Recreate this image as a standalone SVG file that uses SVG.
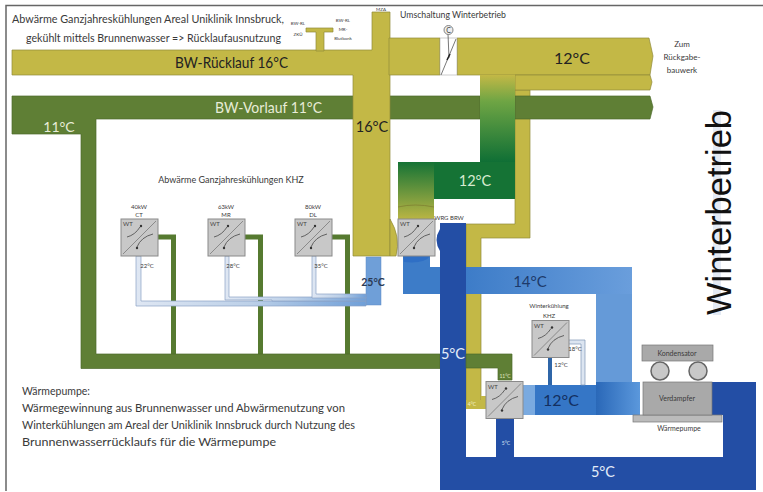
<svg xmlns="http://www.w3.org/2000/svg" width="763" height="492" viewBox="0 0 763 492">
<defs>
<linearGradient id="gv" x1="0" y1="0" x2="0" y2="1"><stop offset="0" stop-color="#c3b846"/><stop offset=".3" stop-color="#6fa544"/><stop offset="1" stop-color="#0f6f35"/></linearGradient>
<linearGradient id="gb" x1="0" y1="0" x2="0" y2="1"><stop offset="0" stop-color="#157335"/><stop offset="1" stop-color="#b9b544"/></linearGradient>
<linearGradient id="gl" x1="0" y1="0" x2="1" y2="0"><stop offset="0" stop-color="#dfe7f3"/><stop offset=".5" stop-color="#bcd0e8"/><stop offset="1" stop-color="#6f9fd8"/></linearGradient>
<linearGradient id="g12" x1="0" y1="0" x2="1" y2="0"><stop offset="0" stop-color="#2a68b8"/><stop offset="1" stop-color="#5b98dc"/></linearGradient>
<linearGradient id="g14" x1="0" y1="0" x2="1" y2="0"><stop offset="0" stop-color="#3d7cc8"/><stop offset="1" stop-color="#6a9edc"/></linearGradient>
<symbol id="wt" viewBox="0 0 37 37" overflow="visible">
<rect x="0" y="0" width="37" height="37" fill="#c8c8c8" stroke="#8a8a8a" stroke-width="1"/>
<path d="M2 35L35 2" stroke="#8a8a8a" stroke-width="1" fill="none"/>
<path d="M6 18Q14 16 19 8M16 28Q20 18 32 15" stroke="#555" stroke-width=".9" fill="none"/>
<circle cx="20" cy="7" r="1.200" fill="#333"/><circle cx="16" cy="29" r="1.200" fill="#333"/>
<text x="2" y="7" font-size="6" fill="#444">WT</text>
</symbol>
</defs>
<style>
text{font-family:Lato,"Open Sans","Liberation Sans",sans-serif}
.t{fill:#3a3a3a}
.y{fill:#c3b846;stroke:#8f8a3a;stroke-width:.7}
.g{fill:#5f7f35;stroke:#4d6b2c;stroke-width:.7}
.d{fill:#234ea5}
.pg{fill:none;stroke:#567a30;stroke-width:5}
.m{fill:#3d7cc8}
.box{fill:#a9a9a9;stroke:#777;stroke-width:.7}
</style>
<rect width="763" height="492" fill="#fff"/>
<path d="M6 491V5.500H763" fill="none" stroke="#666" stroke-width="1.500"/>
<g id="connectors">
<path class="pg" d="M158 237H173.500V354M245 237H260.500V354M332 237H347.500V354"/>
<path class="y" d="M466 224H515V90H530V238H481V408H466Z"/>
<path class="g" d="M12 96H480V119H96V354H440V368.500H81V134H12Z"/>
<path class="g" d="M515 96H650L653 107L650 119H515Z"/>
<path class="y" d="M12 50H372V12H390V256H353V75H12Z"/>
<path class="y" d="M390 219Q401 237 396 256H390Z"/>
<path class="y" d="M389 38H440V75H389Z"/>
<path class="y" d="M457 38H649L653 56L650 75H457Z"/>
<path class="y" d="M515 75H650L652 82L650 90H515Z"/>
<path d="M440 38H457V75H440Z" fill="#fff" stroke="#999" stroke-width=".5"/>
<path d="M441 75L456 39" stroke="#555" stroke-width=".8"/>
<path d="M448 34L449 58" stroke="#555" stroke-width=".8"/>
<path d="M447 60L450 54" stroke="#222" stroke-width="1.500"/>
<path class="y" d="M306 28H333V32H324V51H316V32H306Z"/>
<rect x="480" y="75" width="35" height="87" fill="url(#gv)"/>
<rect x="398" y="162" width="117" height="37" fill="#157335"/>
<rect x="398" y="162" width="36" height="57" fill="url(#gb)"/>
<path d="M398 207Q415 203 434 207" stroke="#7d7b2f" stroke-width=".7" fill="none"/>
<path class="m" d="M403 256H430V267H632V294H403Z"/>
<path d="M403 256H430Q425 264 404 262Z" fill="#2f6fc5"/>
<rect x="596" y="294" width="36" height="88" fill="#659ad8"/>
<rect x="466" y="267" width="166" height="27" fill="url(#g14)"/>
<path class="d" d="M440 223H466V457H440ZM440 229Q433 240 440 251Z"/>
<path class="g" d="M466 354H512V380H498V368H466Z"/>
<rect x="481" y="396" width="5" height="13" fill="#c3b846"/>
<rect x="466" y="400" width="15" height="9" fill="#c3b846"/>
<rect x="523" y="385" width="13" height="30" fill="#7aaae0"/>
<rect x="535" y="385" width="61" height="30" fill="#3576c6"/>
<rect x="596" y="382" width="44" height="33" fill="url(#g12)"/>
<path class="d" d="M712 382H756V490H440V457H723V415H712Z"/>
<rect x="496" y="419" width="18" height="38" fill="#234ea5"/>
<rect x="366" y="257" width="15" height="48" fill="#6f9fd8" stroke="#5c8bc5" stroke-width=".5"/>
<path d="M136 256H141V301H366V306H136Z" fill="url(#gl)" stroke="#8aa2c4" stroke-width=".7"/>
<path d="M225 256H229V297H366V301H272V300H225Z" fill="url(#gl)" stroke="#8aa2c4" stroke-width=".7"/>
<path d="M312 256H316V294H366V298H312Z" fill="url(#gl)" stroke="#8aa2c4" stroke-width=".7"/>
<rect x="548" y="358" width="4" height="27" fill="#2f66a8"/>
<path d="M568 340H585V385H581V344H568Z" fill="#dce5f1" stroke="#7f95b5" stroke-width=".7"/>
</g>
<g id="valve">
<circle cx="448.500" cy="30" r="4.500" fill="#eee" stroke="#666" stroke-width=".8"/>
<text x="448.500" y="32.500" font-size="7" text-anchor="middle" class="t">C</text>
</g>
<g id="wt-ct"><use href="#wt" x="121" y="219" width="37" height="37"/></g>
<g id="wt-mr"><use href="#wt" x="208" y="219" width="37" height="37"/></g>
<g id="wt-dl"><use href="#wt" x="295" y="219" width="37" height="37"/></g>
<g id="wt-wrg"><use href="#wt" x="398" y="219" width="37" height="37"/></g>
<g id="wt-winter"><use href="#wt" x="486" y="381" width="37" height="38"/></g>
<g id="wt-khz"><use href="#wt" x="532" y="320" width="37" height="38"/></g>
<g id="waermepumpe">
<rect class="box" x="633" y="415" width="89" height="7" style="fill:#bbb"/>
<rect class="box" x="643" y="382" width="69" height="33"/>
<rect class="box" x="642" y="345" width="71" height="16"/>
<circle cx="660" cy="371" r="9" fill="#c8c8c8" stroke="#666" stroke-width="1.500"/>
<circle cx="698" cy="371" r="9" fill="#c8c8c8" stroke="#666" stroke-width="1.500"/>
<text x="677" y="355.500" font-size="7" text-anchor="middle" class="t">Kondensator</text>
<text x="677" y="401" font-size="7" text-anchor="middle" class="t">Verdampfer</text>
<text x="679" y="431" font-size="7" text-anchor="middle" class="t">Wärmepumpe</text>
</g>
<g id="labels">
<text x="12" y="23" font-size="10.800" class="t" textLength="272" lengthAdjust="spacingAndGlyphs">Abwärme Ganzjahreskühlungen Areal Uniklinik Innsbruck,</text>
<text x="26" y="42" font-size="10.800" class="t" textLength="255" lengthAdjust="spacingAndGlyphs">gekühlt mittels Brunnenwasser =&gt; Rücklaufausnutzung</text>
<g font-size="4.500" class="t" text-anchor="middle"><text x="298" y="25">BW-RL</text><text x="298" y="36">ZKÜ</text><text x="343" y="22">BW-RL</text><text x="343" y="31">MR-</text><text x="343" y="40">Blutbank</text><text x="381" y="11">MZA</text></g>
<text x="400" y="18" font-size="9" class="t" textLength="106" lengthAdjust="spacingAndGlyphs">Umschaltung Winterbetrieb</text>
<text x="175" y="68" font-size="15" fill="#222" textLength="113" lengthAdjust="spacingAndGlyphs">BW-Rücklauf 16°C</text>
<text x="215" y="113" font-size="15" fill="#e8ecd8" textLength="107" lengthAdjust="spacingAndGlyphs">BW-Vorlauf 11°C</text>
<text x="59" y="132" font-size="14" fill="#e8ecd8" text-anchor="middle">11°C</text>
<text x="372" y="132" font-size="14.500" fill="#222" text-anchor="middle">16°C</text>
<text x="572" y="64" font-size="16" fill="#222" text-anchor="middle">12°C</text>
<text x="475" y="186" font-size="14.500" fill="#d8ecd0" text-anchor="middle">12°C</text>
<g font-size="8" class="t" text-anchor="middle"><text x="682" y="47">Zum</text><text x="682" y="60">Rückgabe-</text><text x="682" y="73">bauwerk</text></g>
<text x="231" y="183" font-size="9" class="t" text-anchor="middle">Abwärme Ganzjahreskühlungen KHZ</text>
<g font-size="6" class="t" text-anchor="middle"><text x="139" y="209">40kW</text><text x="139" y="217">CT</text><text x="226" y="209">63kW</text><text x="226" y="217">MR</text><text x="313" y="209">80kW</text><text x="313" y="217">DL</text><text x="147" y="268">22°C</text><text x="233" y="268">28°C</text><text x="321" y="268">35°C</text><text x="449" y="220">WRG BRW</text></g>
<text x="373" y="286" font-size="10.500" font-weight="700" fill="#2a3a55" text-anchor="middle">25°C</text>
<text x="530" y="287" font-size="15" fill="#1d3a6a" text-anchor="middle">14°C</text>
<text x="453" y="359" font-size="14.500" fill="#e4ecf8" text-anchor="middle">5°C</text>
<text x="561" y="406" font-size="16" fill="#132f60" text-anchor="middle">12°C</text>
<text x="603" y="477" font-size="14.500" fill="#e4ecf8" text-anchor="middle">5°C</text>
<g font-size="6" class="t" text-anchor="middle"><text x="549" y="308">Winterkühlung</text><text x="549" y="318">KHZ</text><text x="575" y="351">18°C</text><text x="561" y="367">12°C</text></g>
<text x="505" y="378" font-size="5" fill="#e0e8c0" text-anchor="middle">11°C</text>
<text x="472" y="406" font-size="5" fill="#f0f0d0" text-anchor="middle">4°C</text>
<text x="506" y="445" font-size="5" fill="#dde6f8" text-anchor="middle">5°C</text>
<g font-size="10.500" class="t"><text x="22" y="395">Wärmepumpe:</text><text x="22" y="412" textLength="323" lengthAdjust="spacingAndGlyphs">Wärmegewinnung aus Brunnenwasser und Abwärmenutzung von</text><text x="22" y="429" textLength="333" lengthAdjust="spacingAndGlyphs">Winterkühlungen am Areal der Uniklinik Innsbruck durch Nutzung des</text><text x="22" y="446" textLength="254" lengthAdjust="spacingAndGlyphs">Brunnenwasserrücklaufs für die Wärmepumpe</text></g>
<rect x="713" y="110" width="8" height="205" fill="#c9d6ea" opacity=".5"/>
<text transform="translate(731,315) rotate(-90)" font-size="34.500" fill="#111" style="font-family:'Liberation Sans',sans-serif" textLength="205" lengthAdjust="spacingAndGlyphs">Winterbetrieb</text>
</g>
</svg>
